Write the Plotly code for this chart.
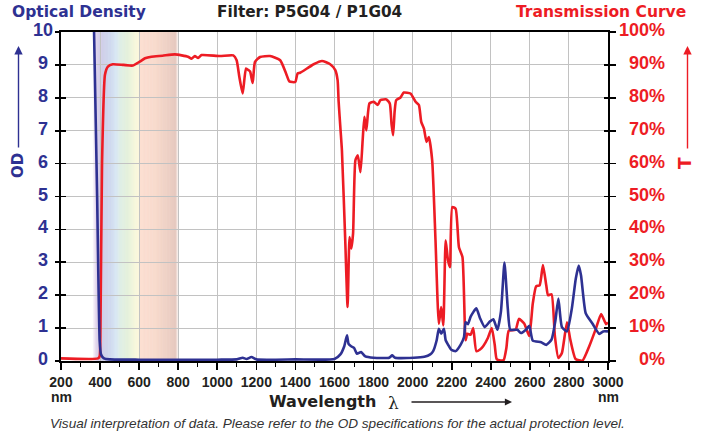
import numpy as np
import plotly.graph_objects as go

# ---------------- data ----------------
od_nm = [368, 385, 398, 405, 420, 450, 600, 1000, 1100, 1130, 1150, 1175, 1200, 1400,
         1600, 1630, 1650, 1664, 1672, 1685, 1700, 1715, 1736, 1758, 1800, 1880, 1895,
         1910, 2006, 2060, 2090, 2105, 2123, 2134, 2146, 2160, 2169, 2181, 2198, 2220,
         2246, 2263, 2271, 2283, 2297, 2326, 2345, 2369, 2395, 2413, 2434, 2452, 2470,
         2487, 2500, 2536, 2554, 2580, 2597, 2615, 2658, 2684, 2711, 2730, 2746, 2764,
         2790, 2815, 2835, 2850, 2862, 2886, 2921, 2956, 2975, 3000]
od_vals = [10.4, 5.0, 0.6, 0.2, 0.08, 0.05, 0.04, 0.04, 0.05, 0.1, 0.06, 0.12, 0.05, 0.05,
           0.06, 0.2, 0.45, 0.78, 0.52, 0.45, 0.4, 0.22, 0.27, 0.14, 0.1, 0.1, 0.17,
           0.1, 0.1, 0.13, 0.2, 0.3, 0.63, 0.98, 0.83, 0.98, 0.63, 0.5, 0.34, 0.3,
           0.5, 0.73, 1.18, 1.12, 1.35, 1.6, 1.3, 1.03, 1.2, 1.27, 0.95, 1.5, 2.99,
           1.6, 0.95, 0.95, 0.85, 0.95, 1.07, 0.62, 0.57, 0.49, 0.65, 1.2, 1.9, 1.03,
           0.9, 1.6, 2.5, 2.9, 2.6, 1.45, 1.13, 0.82, 0.9, 0.9]

t_nm = [200, 390, 398, 402, 410, 425, 440, 465, 520, 567, 603, 630, 663, 720, 783, 850,
        868, 885, 902, 920, 1013, 1082, 1099, 1113, 1130, 1147, 1160, 1168, 1181, 1193,
        1219, 1270, 1322, 1352, 1369, 1399, 1411, 1424, 1459, 1493, 1536, 1578, 1604,
        1616, 1621, 1630, 1638, 1655, 1667, 1677, 1686, 1695, 1707, 1719, 1733, 1744,
        1753, 1763, 1779, 1801, 1821, 1835, 1866, 1883, 1892, 1900, 1908, 1916, 1938,
        1955, 1989, 2015, 2032, 2044, 2058, 2071, 2083, 2100, 2117, 2134, 2146, 2157,
        2169, 2181, 2191, 2203, 2220, 2237, 2255, 2271, 2280, 2297, 2310, 2326, 2345,
        2361, 2385, 2405, 2420, 2430, 2445, 2466, 2480, 2492, 2527, 2544, 2571, 2597,
        2615, 2632, 2650, 2667, 2684, 2693, 2711, 2728, 2746, 2764, 2790, 2807, 2834,
        2869, 2904, 2939, 2965, 2990, 3000]
t_vals = [0.8, 0.8, 1.5, 10, 60, 87, 89.5, 90.2, 90, 89.8, 91, 92, 92.5, 92.8, 93.2, 92.5,
          91.9, 92.7, 92.1, 93, 92.7, 92.9, 91.4, 86.3, 81.3, 88.9, 88.4, 88, 84.5, 90.9,
          92.4, 92.7, 91.4, 87.4, 85, 84.8, 87.4, 87.6, 88.9, 90.2, 91.2, 90.2, 88.4,
          85.3, 79, 71, 64, 36.7, 16.4, 37.7, 34.2, 38.7, 61, 62.5, 57.4, 67,
          74.2, 70.1, 78.3, 78.8, 77.8, 79.3, 79.5, 78.3, 72, 68.6, 76, 79.3, 80.1,
          81.6, 81.3, 78.8, 77.8, 72.7, 70.6, 66.6, 68.1, 61, 36.7, 11.3, 16.4, 10.8,
          36.7, 30.6, 28.5, 46.8, 46.3, 34.6, 31.6, 6.3, 8.3, 8, 10, 3, 3.5,
          4.5, 7, 10, 5, 0.6, 0.2, 0.3, 4, 9.2, 9.5, 12.8, 11.4, 7.6,
          17.5, 22.7, 23, 29.2, 23, 20, 20.3, 7.6, 0.9, 2.4, 11.8, 6.5, 0.6,
          0.1, 4.5, 10, 14.3, 11.2, 11.7]

x_ticks = list(range(200, 3001, 200))
od_ticks = list(range(0, 11))
t_ticks = list(range(0, 101, 10))

NAVY = "#2e3192"
RED = "#ed1c24"
INK = "#231f20"
FONT = "Liberation Sans, Arial, sans-serif"
HEAVY = "DejaVu Sans, Verdana, sans-serif"

# plot area in pixels
L, R, T, B = 61, 608, 32, 361
W, H = 701, 434


def px(xp):
    return (xp - L) / (R - L)


def py(yp):
    return (B - yp) / (B - T)


fig = go.Figure()

# transmission on base axis (drawn first), OD on overlay (drawn on top)
fig.add_trace(go.Scatter(x=t_nm, y=t_vals, yaxis="y", mode="lines",
                         line=dict(color=RED, width=2.6, shape="spline", smoothing=0.5),
                         hoverinfo="skip", showlegend=False))
fig.add_trace(go.Scatter(x=od_nm, y=od_vals, yaxis="y2", mode="lines",
                         line=dict(color=NAVY, width=2.6, shape="spline", smoothing=0.5),
                         hoverinfo="skip", showlegend=False))
# helper invisible traces for the inner tick marks
fig.add_trace(go.Scatter(x=od_nm[:1], y=od_vals[:1], yaxis="y3", mode="lines",
                         line=dict(width=0), hoverinfo="skip", showlegend=False))
fig.add_trace(go.Scatter(x=t_nm[:1], y=t_vals[:1], yaxis="y4", mode="lines",
                         line=dict(width=0), hoverinfo="skip", showlegend=False))

# visible-spectrum band
stops = [
    (362, 225, 210, 235, 0.0),
    (380, 220, 205, 232, 1.0),
    (395, 205, 195, 228, 1.0),
    (420, 198, 200, 230, 1.0),
    (455, 200, 212, 236, 1.0),
    (485, 210, 228, 242, 1.0),
    (505, 218, 236, 224, 1.0),
    (545, 225, 239, 213, 1.0),
    (580, 246, 246, 214, 1.0),
    (599, 252, 247, 214, 1.0),
    (601, 252, 218, 202, 1.0),
    (680, 247, 212, 196, 1.0),
    (760, 232, 197, 184, 1.0),
    (785, 225, 190, 178, 1.0),
    (800, 225, 190, 178, 0.0),
]
sn = np.array([s[0] for s in stops], dtype=float)
shapes = []
step = 3
for a in np.arange(362, 800, step):
    m = a + step / 2
    r = np.interp(m, sn, [s[1] for s in stops])
    g = np.interp(m, sn, [s[2] for s in stops])
    b = np.interp(m, sn, [s[3] for s in stops])
    al = np.interp(m, sn, [s[4] for s in stops])
    shapes.append(dict(type="rect", xref="x", yref="paper", x0=a, x1=a + step + 0.6,
                       y0=0, y1=1, layer="below", line=dict(width=0),
                       fillcolor=f"rgba({int(r)},{int(g)},{int(b)},{al:.3f})"))

ann = []
# left tick labels (centred)
for v in od_ticks:
    ann.append(dict(x=px(42.5), xref="paper", y=v, yref="y2", text=f"<b>{v}</b>",
                    showarrow=False, xanchor="center", yanchor="middle", yshift=2,
                    font=dict(family=FONT, size=18, color=NAVY)))
# right tick labels (right aligned)
for v in t_ticks:
    ann.append(dict(x=px(667), xref="paper", y=v, yref="y", text=f"<b>{v}%</b>",
                    showarrow=False, xanchor="right", yanchor="middle", yshift=2,
                    font=dict(family=FONT, size=18, color=RED)))

# titles
ann.append(dict(x=px(10), y=py(12), xref="paper", yref="paper", text="<b>Optical Density</b>",
                showarrow=False, xanchor="left", yanchor="middle",
                font=dict(family=HEAVY, size=15.5, color=NAVY)))
ann.append(dict(x=px(309), y=py(12), xref="paper", yref="paper", text="<b>Filter: P5G04 / P1G04</b>",
                showarrow=False, xanchor="center", yanchor="middle",
                font=dict(family=HEAVY, size=15.3, color=INK)))
ann.append(dict(x=px(688), y=py(12), xref="paper", yref="paper", text="<b>Transmission Curve</b>",
                showarrow=False, xanchor="right", yanchor="middle",
                font=dict(family=HEAVY, size=15.5, color=RED)))

# axis name labels with arrows
ann.append(dict(x=px(18), y=py(166), xref="paper", yref="paper", text="<b>OD</b>", textangle=-90,
                showarrow=False, xanchor="center", yanchor="middle",
                font=dict(family=HEAVY, size=15, color=NAVY)))
ann.append(dict(x=px(18.5), y=py(46), xref="paper", yref="paper", text="", showarrow=True,
                ax=0, ay=103, arrowhead=2, arrowsize=1.2, arrowwidth=1.4, arrowcolor=NAVY))
ann.append(dict(x=px(685), y=py(163), xref="paper", yref="paper", text="<b>T</b>", textangle=-90,
                showarrow=False, xanchor="center", yanchor="middle",
                font=dict(family=HEAVY, size=17, color=RED)))
ann.append(dict(x=px(687.5), y=py(46), xref="paper", yref="paper", text="", showarrow=True,
                ax=0, ay=104, arrowhead=2, arrowsize=1.2, arrowwidth=1.4, arrowcolor=RED))

# x axis texts
for xx in (61, 608):
    ann.append(dict(x=px(xx), y=py(397), xref="paper", yref="paper", text="<b>nm</b>",
                    showarrow=False, xanchor="center", yanchor="middle",
                    font=dict(family=FONT, size=14, color=INK)))
ann.append(dict(x=px(378), y=py(401), xref="paper", yref="paper", text="<b>Wavelength</b>",
                showarrow=False, xanchor="right", yanchor="middle",
                font=dict(family=HEAVY, size=16, color=INK)))
ann.append(dict(x=px(393), y=py(403), xref="paper", yref="paper", text="λ",
                showarrow=False, xanchor="center", yanchor="middle",
                font=dict(family="DejaVu Serif, serif", size=17, color=INK)))
ann.append(dict(x=px(512), y=py(402), xref="paper", yref="paper", text="", showarrow=True,
                ax=-102, ay=0, arrowhead=2, arrowsize=1.1, arrowwidth=1.3, arrowcolor=INK))
ann.append(dict(x=px(337), y=py(423), xref="paper", yref="paper",
                text="<i>Visual interpretation of data. Please refer to the OD specifications for the actual protection level.</i>",
                showarrow=False, xanchor="center", yanchor="middle",
                font=dict(family=FONT, size=13.6, color="#333333")))

fig.update_layout(
    width=W, height=H,
    margin=dict(l=L, r=W - R, t=T, b=H - B, pad=0),
    paper_bgcolor="white", plot_bgcolor="white",
    showlegend=False,
    shapes=shapes,
    annotations=ann,
    xaxis=dict(range=[200, 3000], tickvals=x_ticks, ticktext=[f"<b>{v}</b>" for v in x_ticks],
               tickfont=dict(family=FONT, size=14, color=INK),
               ticks="outside", ticklen=7, tickwidth=1.6, tickcolor="black",
               ticklabelstandoff=0,
               showgrid=True, gridcolor="#c2c2c2", gridwidth=1,
               showline=True, linecolor="black", linewidth=2, mirror=True,
               minor=dict(dtick=100, tick0=200, ticks="outside", ticklen=4, tickwidth=1,
                          tickcolor="black", showgrid=False),
               zeroline=False, fixedrange=True),
    yaxis=dict(range=[0, 100], side="right", dtick=10, showticklabels=False,
               ticks="outside", ticklen=6, tickwidth=1.6, tickcolor="black",
               showgrid=True, gridcolor="#c2c2c2", gridwidth=1,
               showline=True, linecolor="black", linewidth=2, zeroline=False),
    yaxis2=dict(range=[0, 10], overlaying="y", side="left", dtick=1, showticklabels=False,
                ticks="outside", ticklen=4, tickwidth=1.6, tickcolor="black",
                showgrid=False, showline=True, linecolor="black", linewidth=2, zeroline=False),
    yaxis3=dict(range=[0, 10], overlaying="y", side="left", dtick=1, showticklabels=False,
                ticks="inside", ticklen=5, tickwidth=1.6, tickcolor="black",
                showgrid=False, showline=False, zeroline=False),
    yaxis4=dict(range=[0, 100], overlaying="y", side="right", dtick=10, showticklabels=False,
                ticks="inside", ticklen=4, tickwidth=1.6, tickcolor="black",
                showgrid=False, showline=False, zeroline=False),
)

fig.write_html("out.html", config={"displayModeBar": False, "staticPlot": True},
               post_script="document.body.style.margin='0';document.body.style.overflow='hidden';")
